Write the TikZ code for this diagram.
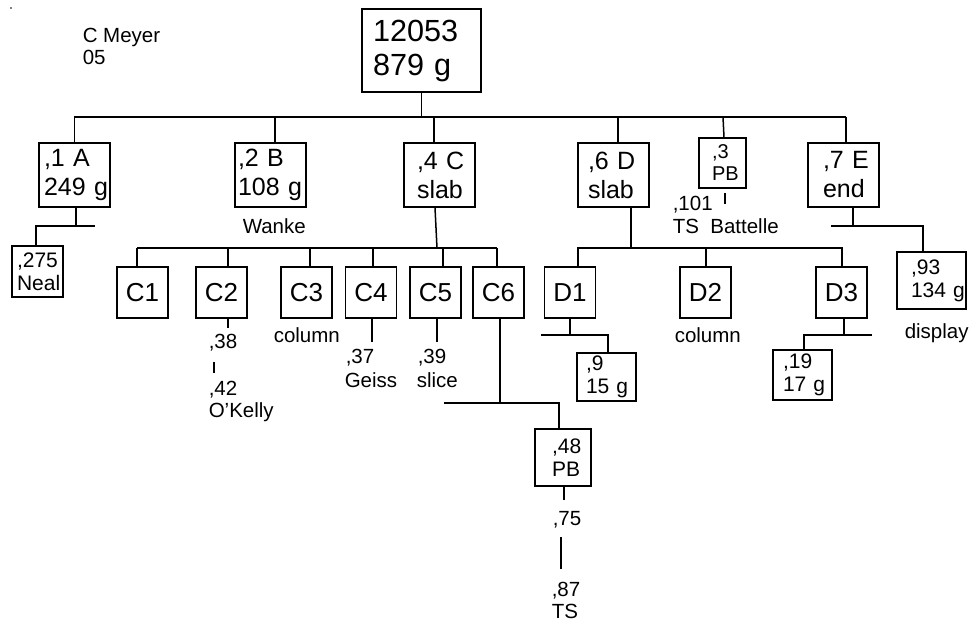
\documentclass[tikz,border=0pt]{standalone}
\usepackage{fontspec}
\setmainfont{Liberation Sans}
\usetikzlibrary{calc}
\begin{document}
\begin{tikzpicture}[x=1pt,y=-1pt,line width=1.5pt,
  box/.style={draw, inner ysep=0pt, align=left},
  ftop/.style={font=\fontsize{30.6}{34}\selectfont},
  fmid/.style={font=\fontsize{25}{29}\selectfont},
  fpb/.style={font=\fontsize{20}{22}\selectfont},
  fsm/.style={font=\fontsize{21}{23}\selectfont},
  cd/.style={draw, font=\fontsize{26}{30}\selectfont, minimum width=51pt, minimum height=51pt, inner sep=0pt},
  lab/.style={font=\fontsize{20.5}{23}\selectfont, inner sep=0pt, anchor=base west}]
\useasboundingbox (0,0) rectangle (974,623);
\fill (11,8) circle (0.8pt);

% labels top-left
\node[lab] (cm) at (82,43) {C Meyer};
\node[lab] (c05) at (82,65) {05};

% top box
\node[box, ftop, text width=97pt, inner xsep=11pt, minimum height=83pt] (top) at (421.5,50.5) {12053\\879~g};

% level 1
\node[box, fmid, text width=61pt, inner xsep=5pt, minimum height=64pt] (A) at (74.5,175) {,1~A\\249~g};
\node[box, fmid, text width=65pt, inner xsep=3pt, minimum height=64pt] (B) at (270.5,175) {,2~B\\108~g};
\node[box, fmid, text width=45pt, inner xsep=13pt, minimum height=64pt] (C) at (439.5,175) {,4~C\\slab};
\node[box, fmid, text width=51pt, inner xsep=10pt, minimum height=64pt] (D) at (613.5,175) {,6~D\\slab};
\node[box, fpb, text width=21pt, inner xsep=13pt, minimum height=50pt] (PB3) at (722.5,163) {,3\\PB};
\node[box, fmid, text width=41pt, inner xsep=15pt, minimum height=64pt] (E) at (843.5,175) {,7~E\\end};

% small boxes
\node[box, fsm, text width=41pt, inner xsep=5pt, minimum height=51pt] (Neal) at (37.5,271.5) {,275\\Neal};
\node[box, fsm, text width=41pt, inner xsep=14pt, minimum height=57pt] (n93) at (931.5,280.5) {,93\\134~g};
\node[box, fsm, text width=41pt, inner xsep=9pt, minimum height=48pt] (n9) at (606.5,377) {,9\\15~g};
\node[box, fsm, text width=39pt, inner xsep=10pt, minimum height=50pt] (n19) at (802.5,375) {,19\\17~g};
\node[box, fsm, text width=22pt, inner xsep=17pt, minimum height=57pt] (PB48) at (563,457.5) {,48\\PB};

% C and D boxes
\node[cd] (C1) at (142.5,292.5) {C1};
\node[cd] (C2) at (221.5,292.5) {C2};
\node[cd] (C3) at (306.5,292.5) {C3};
\node[cd] (C4) at (371,292.5) {C4};
\node[cd] (C5) at (435.5,292.5) {C5};
\node[cd] (C6) at (498.5,292.5) {C6};
\node[cd] (D1) at (570,292.5) {D1};
\node[cd] (D2) at (705.5,292.5) {D2};
\node[cd] (D3) at (841.5,292.5) {D3};

% text labels
\node[lab] (wanke) at (242,233) {Wanke};
\node[lab] (n101) at (672,210) {,101};
\node[lab] (bat) at (672,233) {TS\ \ Battelle};
\node[lab] (n38) at (208,348) {,38};
\node[lab] (n42) at (208,395) {,42};
\node[lab] (okelly) at (208,417) {O’Kelly};
\node[lab] (col1) at (273,342) {column};
\node[lab] (n37) at (345,363) {,37};
\node[lab] (geiss) at (344,387) {Geiss};
\node[lab] (n39) at (417,363) {,39};
\node[lab] (slice) at (416,387) {slice};
\node[lab] (col2) at (674,342) {column};
\node[lab] (disp) at (904,338) {display};
\node[lab] (n75) at (552,525) {,75};
\node[lab] (n87) at (551,596) {,87};
\node[lab] (ts) at (551,618) {TS};

% main bus
\coordinate (bL) at (74,117);
\coordinate (bR) at (846,117);
\draw (bL) -- (bR);
\draw (top.south) -- (top.south |- bL);
\draw (A.north) -- (A.north |- bL);
\draw ($(B.north)+(4.5,0)$) -- ($(B.north |- bL)+(4.5,0)$);
\draw ($(C.north)+(-5.5,0)$) -- ($(C.north |- bL)+(-5.5,0)$);
\draw ($(D.north)+(4.5,0)$) -- ($(D.north |- bL)+(4.5,0)$);
\draw ($(PB3.north)+(1.5,0)$) -- ($(PB3.north |- bL)+(0.5,0)$);
\draw ($(E.north)+(2.5,0)$) -- ($(E.north |- bL)+(2.5,0)$);

% under A
\coordinate (aR) at (95,226);
\draw ($(A.south)+(1.5,0)$) -- ($(A.south |- aR)+(1.5,0)$);
\draw ($(Neal.north)+(-1.5,0)$) |- (aR);

% under PB3
\draw ($(PB3.south)+(2.5,4)$) -- ($(PB3.south)+(2.5,15)$);

% under E
\coordinate (eL) at (831,226);
\draw ($(E.south)+(9.5,0)$) -- ($(E.south |- eL)+(9.5,0)$);
\draw (eL) -| ($(n93.north)+(-8.5,0)$);

% C bus
\coordinate (cL) at (137,248);
\coordinate (cR) at (497,248);
\draw (cL) -- (cR);
\draw ($(C.south)+(-4.5,0)$) -- ($(C.south |- cL)+(-2.5,0)$);
\foreach \n/\dx in {C1/-5.5, C2/6.5, C3/3.5, C4/2, C5/7.5, C6/-1.5}
  \draw ($(\n.north)+(\dx,0)$) -- ($(\n.north |- cL)+(\dx,0)$);

% under C boxes
\draw ($(C2.south)+(6.5,0)$) -- ++(0,9);
\draw ($(n38.base west)+(6,14)$) -- ($(n42.base west)+(6,-22)$);
\draw ($(C4.south)+(1,0)$) -- ++(0,23);
\draw ($(C5.south)+(1.5,0)$) -- ++(0,23);
\coordinate (c6L) at (444,403);
\draw ($(C6.south)+(1.5,0)$) -- ($(C6.south |- c6L)+(1.5,0)$);
\draw (c6L) -| ($(PB48.north)+(-4,0)$);
\draw ($(PB48.south)+(1,0)$) -- ++(0,13);
\draw ($(n75.base west)+(9,12)$) -- ($(n87.base west)+(10,-27)$);

% D bus
\coordinate (dL) at (577,248);
\coordinate (dR) at (843,248);
\draw (dL) -- (dR);
\draw ($(D.south)+(17.5,0)$) -- ($(D.south |- dL)+(17.5,0)$);
\foreach \n/\dx in {D1/8, D2/0.5, D3/0.5}
  \draw ($(\n.north)+(\dx,0)$) -- ($(\n.north |- dL)+(\dx,0)$);

% under D1
\coordinate (d1L) at (541,335);
\draw (D1.south) -- (D1.south |- d1L);
\draw (d1L) -| ($(n9.north)+(1.5,0)$);

% under D3
\coordinate (d3R) at (872,335);
\draw ($(D3.south)+(2.5,0)$) -- ($(D3.south |- d3R)+(2.5,0)$);
\draw (d3R) -| ($(n19.north)+(1.5,0)$);
\end{tikzpicture}
\end{document}
